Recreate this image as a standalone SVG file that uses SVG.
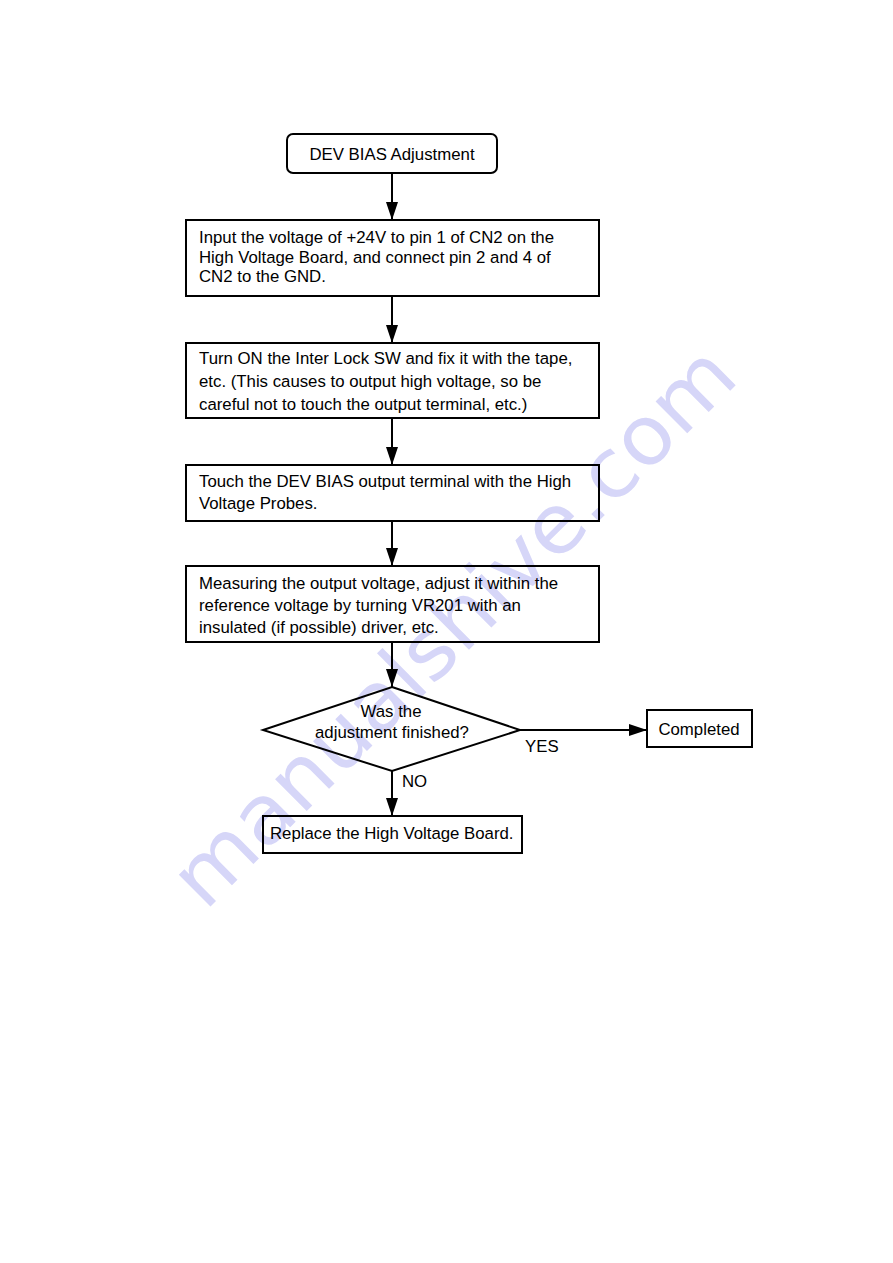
<svg xmlns="http://www.w3.org/2000/svg" width="893" height="1263" viewBox="0 0 893 1263">
<style>
.box{fill:none;stroke:#000;stroke-width:2}
.t{font-family:"Liberation Sans",Arial,sans-serif;font-size:16.8px;fill:#000}
.c{text-anchor:middle}
.ln{stroke:#000;stroke-width:2;fill:none}
.wm{font-family:"DejaVu Sans",sans-serif;font-size:82px;fill:#d6d6f8}
</style>
<defs>
<marker id="ah" viewBox="0 0 18 12" refX="18" refY="6" markerWidth="18" markerHeight="12" markerUnits="userSpaceOnUse" orient="auto">
<path d="M0,0 L18,6 L0,12 z" fill="#000"/>
</marker>
</defs>
<rect width="893" height="1263" fill="#fff"/>
<text class="wm" transform="translate(205,912) rotate(-44.8)" textLength="755" lengthAdjust="spacingAndGlyphs">manualshive.com</text>
<g id="connectors">
<line class="ln" x1="392" y1="173" x2="392" y2="220" marker-end="url(#ah)"/>
<line class="ln" x1="392" y1="296" x2="392" y2="343" marker-end="url(#ah)"/>
<line class="ln" x1="392" y1="418" x2="392" y2="465" marker-end="url(#ah)"/>
<line class="ln" x1="392" y1="521" x2="392" y2="566" marker-end="url(#ah)"/>
<line class="ln" x1="392" y1="642" x2="392" y2="687" marker-end="url(#ah)"/>
<line class="ln" x1="520" y1="730" x2="647" y2="730" stroke-width="1.5" marker-end="url(#ah)"/>
<line class="ln" x1="392" y1="771" x2="392" y2="816" marker-end="url(#ah)"/>
<text class="t" x="525" y="752">YES</text>
<text class="t" x="402" y="787">NO</text>
</g>
<g id="start">
<rect class="box" x="287" y="134" width="210" height="39" rx="6"/>
<text class="t c" x="392" y="160">DEV BIAS Adjustment</text>
</g>
<g id="step1">
<rect class="box" x="186" y="220" width="413" height="76"/>
<text class="t" x="199" y="243">Input the voltage of +24V to pin 1 of CN2 on the</text>
<text class="t" x="199" y="262.5">High Voltage Board, and connect pin 2 and 4 of</text>
<text class="t" x="199" y="282">CN2 to the GND.</text>
</g>
<g id="step2">
<rect class="box" x="186" y="343" width="413" height="75"/>
<text class="t" x="199" y="364">Turn ON the Inter Lock SW and fix it with the tape,</text>
<text class="t" x="199" y="387">etc. (This causes to output high voltage, so be</text>
<text class="t" x="199" y="410">careful not to touch the output terminal, etc.)</text>
</g>
<g id="step3">
<rect class="box" x="186" y="465" width="413" height="56"/>
<text class="t" x="199" y="487">Touch the DEV BIAS output terminal with the High</text>
<text class="t" x="199" y="509">Voltage Probes.</text>
</g>
<g id="step4">
<rect class="box" x="186" y="566" width="413" height="76"/>
<text class="t" x="199" y="589">Measuring the output voltage, adjust it within the</text>
<text class="t" x="199" y="611">reference voltage by turning VR201 with an</text>
<text class="t" x="199" y="633">insulated (if possible) driver, etc.</text>
</g>
<g id="decision">
<polygon class="box" points="392,687 520,730 392,771 263,730"/>
<text class="t c" x="391" y="717">Was the</text>
<text class="t c" x="392" y="738">adjustment finished?</text>
</g>
<g id="completed">
<rect class="box" x="647" y="710" width="105" height="37"/>
<text class="t c" x="699" y="735">Completed</text>
</g>
<g id="replace">
<rect class="box" x="263" y="816" width="259" height="37"/>
<text class="t" x="270" y="839">Replace the High Voltage Board.</text>
</g>
</svg>
